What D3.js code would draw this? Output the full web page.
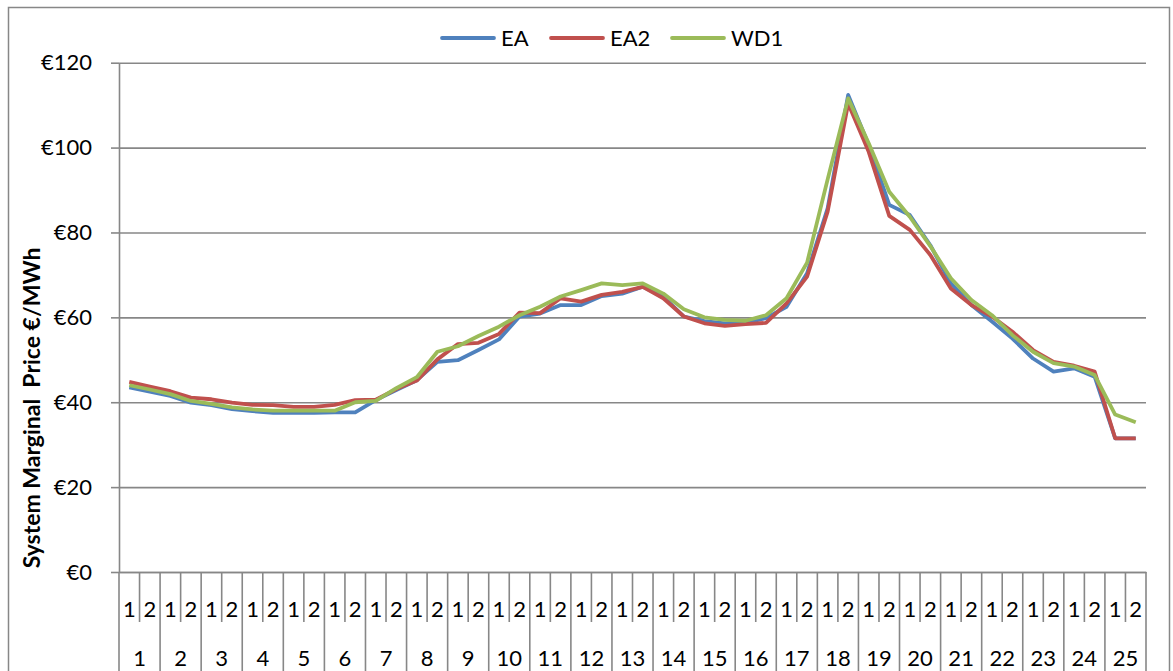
<!DOCTYPE html>
<html>
<head>
<meta charset="utf-8">
<script src="https://cdn.jsdelivr.net/npm/d3@7"></script>
<style>
  body { margin: 0; background: #fff; }
  svg { display: block; font-family: Lato, "Open Sans", sans-serif; }
</style>
</head>
<body>
<svg width="1173" height="671"></svg>
<script>
// trading periods: 25 hours, each split in 2 half-hours
var hours = d3.range(1, 26);
var halves = [1, 2];
var seriesNames = ["EA", "EA2", "WD1"];
var yTicks = [0, 20, 40, 60, 80, 100, 120];

var EA = [43.5, 42.5, 41.5, 39.9, 39.3, 38.4, 37.9, 37.5, 37.5, 37.5,
          37.6, 37.6, 40.5, 42.9, 45.2, 49.5, 49.9, 52.3, 54.8, 60.2,
          60.9, 62.9, 62.9, 65.0, 65.6, 67.2, 64.9, 60.2, 59.1, 58.6,
          58.7, 59.8, 62.5, 70.4, 85.7, 112.4, 100.6, 86.5, 84.1, 77.0,
          68.0, 62.9, 59.0, 55.0, 50.3, 47.2, 48.0, 46.0, 31.5, 31.5];
var EA2 = [44.8, 43.7, 42.6, 41.1, 40.7, 39.9, 39.4, 39.3, 38.9, 38.9,
           39.4, 40.5, 40.6, 43.1, 45.1, 50.1, 53.7, 54.0, 56.1, 61.1,
           61.0, 64.5, 63.7, 65.3, 66.0, 67.2, 64.5, 60.2, 58.6, 58.0,
           58.4, 58.7, 63.3, 69.6, 84.9, 110.4, 99.0, 83.9, 80.6, 74.7,
           66.8, 62.9, 60.2, 56.6, 52.3, 49.5, 48.6, 47.2, 31.5, 31.5];
var WD1 = [44.0, 43.0, 41.9, 40.3, 39.6, 38.8, 38.3, 38.0, 38.0, 38.0,
           38.0, 40.0, 40.3, 43.3, 45.9, 51.9, 53.2, 55.6, 57.8, 60.5,
           62.5, 64.9, 66.4, 68.0, 67.6, 68.0, 65.6, 61.9, 60.0, 59.4,
           59.2, 60.5, 64.5, 72.9, 92.5, 111.6, 101.0, 89.6, 83.7, 76.8,
           69.2, 64.1, 60.5, 55.8, 51.9, 49.2, 48.4, 46.4, 37.1, 35.3];

var colors = ["#4F81BD", "#C0504D", "#9BBB59"];
var gridColor = "#878787";

var svg = d3.select("svg");
var plotLeft = 119, plotRight = 1146, plotTop = 62.7, plotBottom = 572;

// periods as "hour-half" keys
var periods = [];
hours.forEach(function (h) {
    halves.forEach(function (p) { periods.push({hour: h, half: p, key: h + "-" + p}); });
});

var x = d3.scaleBand().domain(periods.map(function (d) { return d.key; })).range([plotLeft, plotRight]);
var xh = d3.scaleBand().domain(hours).range([plotLeft, plotRight]);
var y = d3.scaleLinear().domain([0, 120]).range([plotBottom, plotTop]);

// chart border
svg.append("rect")
    .attr("x", 8.5).attr("y", 7.5)
    .attr("width", 1161).attr("height", 700)
    .attr("fill", "none").attr("stroke", gridColor).attr("stroke-width", 1.5);

// gridlines
svg.append("g")
    .attr("transform", "translate(" + plotLeft + ",0)")
    .call(d3.axisLeft(y).tickValues(yTicks).tickSize(-(plotRight - plotLeft)).tickFormat(""))
    .call(function (g) {
        g.select(".domain").remove();
        g.selectAll("line").attr("stroke", gridColor).attr("stroke-width", 1.6);
    });

// y axis
svg.append("g")
    .attr("transform", "translate(" + plotLeft + ",0)")
    .call(d3.axisLeft(y).tickValues(yTicks).tickSize(8).tickSizeOuter(0).tickPadding(19)
        .tickFormat(function (d) { return "€" + d; }))
    .call(function (g) {
        g.select(".domain").attr("stroke", gridColor).attr("stroke-width", 1.6);
        g.selectAll("line").attr("stroke", gridColor).attr("stroke-width", 1.6);
        g.selectAll("text").attr("font-size", 22).attr("fill", "#000")
            .attr("font-family", "Lato, sans-serif");
    });

// y axis title
svg.append("text")
    .attr("transform", "translate(40,408) rotate(-90)")
    .attr("text-anchor", "middle")
    .attr("font-size", 23)
    .attr("font-weight", "bold")
    .attr("xml:space", "preserve")
    .text("System Marginal  Price €/MWh");

// x axis: half-hour row
svg.append("g")
    .attr("transform", "translate(0," + plotBottom + ")")
    .call(d3.axisBottom(x).tickSize(0).tickPadding(29)
        .tickFormat(function (k) { return k.split("-")[1]; }))
    .call(function (g) {
        g.select(".domain").attr("stroke", gridColor).attr("stroke-width", 1.6);
        g.selectAll("text").attr("font-size", 22).attr("fill", "#000")
            .attr("font-family", "Lato, sans-serif");
    });

// x axis: hour row
svg.append("g")
    .attr("transform", "translate(0," + plotBottom + ")")
    .call(d3.axisBottom(xh).tickSize(0).tickPadding(78))
    .call(function (g) {
        g.select(".domain").remove();
        g.selectAll("text").attr("font-size", 22).attr("fill", "#000")
            .attr("font-family", "Lato, sans-serif");
    });

// separators between categories
var seps = periods.map(function (d) { return {pos: x(d.key), full: d.half === 1}; });
seps.push({pos: plotRight, full: true});
svg.append("g").selectAll("line")
    .data(seps)
    .enter().append("line")
    .attr("x1", function (d) { return d.pos; })
    .attr("x2", function (d) { return d.pos; })
    .attr("y1", plotBottom)
    .attr("y2", function (d) { return d.full ? 680 : 622; })
    .attr("stroke", gridColor)
    .attr("stroke-width", 1.6);

// lines
var data = [EA, EA2, WD1];
var line = d3.line()
    .x(function (d, i) { return x(periods[i].key) + x.bandwidth() / 2; })
    .y(function (d) { return y(d); });

svg.append("g").selectAll("path")
    .data(data)
    .enter().append("path")
    .attr("d", line)
    .attr("fill", "none")
    .attr("stroke", function (d, i) { return colors[i]; })
    .attr("stroke-width", 3.8)
    .attr("stroke-linejoin", "round");

// legend
var legendX = [442, 551, 672];
var legend = svg.append("g").selectAll("g")
    .data(seriesNames)
    .enter().append("g")
    .attr("transform", function (d, i) { return "translate(" + legendX[i] + ",38)"; });
legend.append("line")
    .attr("x1", 0).attr("x2", 52)
    .attr("stroke", function (d, i) { return colors[i]; })
    .attr("stroke-width", 3.8)
    .attr("stroke-linecap", "round");
legend.append("text")
    .attr("x", 59).attr("y", 8)
    .attr("font-size", 22)
    .text(function (d) { return d; });
</script>
</body>
</html>
